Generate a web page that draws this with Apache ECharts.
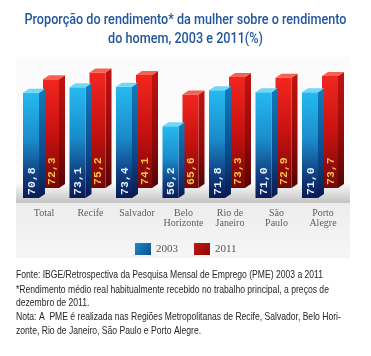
<!DOCTYPE html>
<html>
<head>
<meta charset="utf-8">
<script src="https://cdn.jsdelivr.net/npm/echarts@6/dist/echarts.min.js"></script>
<style>html,body{margin:0;padding:0;background:#fff;}#c{width:371px;height:356px;}</style>
</head>
<body>
<div id="c"></div>
<script>
var categories = ['Total', 'Recife', 'Salvador', 'Belo\nHorizonte', 'Rio de\nJaneiro', 'São\nPaulo', 'Porto\nAlegre'];
var values2003 = [70.8, 73.1, 73.4, 56.2, 71.8, 71.0, 71.0];
var values2011 = [72.3, 75.2, 74.1, 65.6, 73.3, 72.9, 73.7];
var seriesNames = ['2003', '2011'];
var titleLines = ['Proporção do rendimento* da mulher sobre o rendimento', 'do homem, 2003 e 2011(%)'];
var notes = [
  'Fonte: IBGE/Retrospectiva da Pesquisa Mensal de Emprego (PME) 2003 a 2011',
  '*Rendimento médio real habitualmente recebido no trabalho principal, a preços de',
  'dezembro de 2011.',
  'Nota: A  PME é realizada nas Regiões Metropolitanas de Recife, Salvador, Belo Hori-',
  'zonte, Rio de Janeiro, São Paulo e Porto Alegre.'
];
var Y_MIN = 25, Y_MAX = 80;

var mctx = document.createElement('canvas').getContext('2d');
function measure(font, text){ mctx.font = font; return mctx.measureText(text).width; }

function fmt(v){ return v.toFixed(1).replace('.', ','); }
function lin(stops){
  return {type:'linear', x:0, y:0, x2:0, y2:1, colorStops: stops.map(function(c){return {offset:c[0], color:c[1]};})};
}
var styles = {
  b: {
    front: lin([[0,'#25baf0'],[0.45,'#1a8ccb'],[0.78,'#103f82'],[1,'#0a1a56']]),
    side: lin([[0,'#127cba'],[0.6,'#0d4a8c'],[1,'#081a4e']]),
    top: '#72d6f8', label: '#e2f4ff', x: -21, lift: 0
  },
  r: {
    front: lin([[0,'#f2261f'],[0.5,'#c71210'],[1,'#760707']]),
    side: lin([[0,'#c01411'],[0.6,'#8e0a09'],[1,'#540404']]),
    top: '#f76152', label: '#f7c444', x: -1, lift: 10
  }
};
var labelFont = 'bold 11.5px "Liberation Mono", "Courier New", monospace';
function makeRender(kind, arr){
  var s = styles[kind];
  return function(params, api){
    var idx = api.value(0), val = api.value(1);
    var top = api.coord([idx, val]);
    var base = api.coord([idx, Y_MIN]);
    var cx = top[0];
    var w = 16, dx = 6, dy = -4;
    var x = cx + s.x;
    var yT = top[1] - s.lift, yB = base[1] - s.lift;
    return {
      type: 'group',
      children: [
        {type:'polygon', shape:{points:[[x+w,yT],[x+w+dx,yT+dy],[x+w+dx,yB+dy],[x+w,yB]]}, style:{fill:s.side}},
        {type:'rect', shape:{x:x, y:yT, width:w, height:yB-yT}, style:{fill:s.front}},
        {type:'polygon', shape:{points:[[x,yT],[x+w,yT],[x+w+dx,yT+dy],[x+dx,yT+dy]]}, style:{fill:s.top}},
        {type:'text', x: x + w/2 + 1, y: yB - 3, rotation: Math.PI/2,
          style:{text: fmt(arr[params.dataIndex]), fill: s.label, font: labelFont, align:'left', verticalAlign:'middle'}}
      ]
    };
  };
}
function toData(arr){ return arr.map(function(v,i){ return [i, v]; }); }

var graphics = [
  {type:'rect', z:-10, shape:{x:16, y:57, width:334, height:201}, style:{fill:'#fbfbfb'}},
  {type:'rect', z:-9, shape:{x:16, y:184, width:334, height:19}, style:{fill: lin([[0,'#f8f8f8'],[0.6,'#d8d8d8'],[1,'#c2c2c2']])}},
  {type:'rect', z:-9, shape:{x:16, y:203, width:334, height:55}, style:{fill: lin([[0,'#ededed'],[1,'#f6f6f6']])}}
];

var titleFont = '500 14px Roboto, "Liberation Sans", Arial, sans-serif';
var titleScale = 322 / measure(titleFont, titleLines[0]);
var titleY = [20, 39];
titleLines.forEach(function(t, i){
  graphics.push({type:'text', x:185.5, y:titleY[i], scaleX:titleScale,
    style:{text:t, fill:'#22579f', font:titleFont, align:'center', verticalAlign:'middle'}});
});

var noteFont = '10.5px "Liberation Sans", Arial, sans-serif';
var noteScale = 307 / measure(noteFont, notes[0]);
var noteY = [275, 290, 303, 317, 331];
notes.forEach(function(t, i){
  graphics.push({type:'text', x:16, y:noteY[i], scaleX:noteScale,
    style:{text:t, fill:'#262626', font:noteFont, align:'left', verticalAlign:'middle'}});
});

var chart = echarts.init(document.getElementById('c'), null, {renderer:'canvas'});
chart.setOption({
  animation: false,
  backgroundColor: '#ffffff',
  legend: {
    data: seriesNames, left: 135, top: 243, padding: 0, itemWidth: 16, itemHeight: 12, itemGap: 16, icon: 'rect',
    textStyle: {fontFamily:'"Liberation Serif", serif', fontSize:11, color:'#555'}
  },
  grid: {left: 20.75, right: 24.75, top: 71.5, bottom: 158},
  xAxis: {
    type: 'category', data: categories,
    axisLine:{show:false}, axisTick:{show:false},
    axisLabel:{margin: 10, fontFamily:'"Liberation Serif", serif', fontSize:10, color:'#5e5e5e', lineHeight:10.5, interval:0}
  },
  yAxis: {type:'value', min:Y_MIN, max:Y_MAX, show:false, splitLine:{show:false}},
  graphic: graphics,
  series: [
    {name: seriesNames[0], type:'custom', z:3, data: toData(values2003), encode:{x:0, y:1},
      itemStyle:{color: {type:'linear', x:0,y:0,x2:1,y2:1, colorStops:[{offset:0,color:'#1b8cc6'},{offset:1,color:'#0f4f8e'}]}},
      renderItem: makeRender('b', values2003)},
    {name: seriesNames[1], type:'custom', z:2, data: toData(values2011), encode:{x:0, y:1},
      itemStyle:{color: {type:'linear', x:0,y:0,x2:1,y2:1, colorStops:[{offset:0,color:'#c41614'},{offset:1,color:'#8a0808'}]}},
      renderItem: makeRender('r', values2011)}
  ]
});
</script>
</body>
</html>
